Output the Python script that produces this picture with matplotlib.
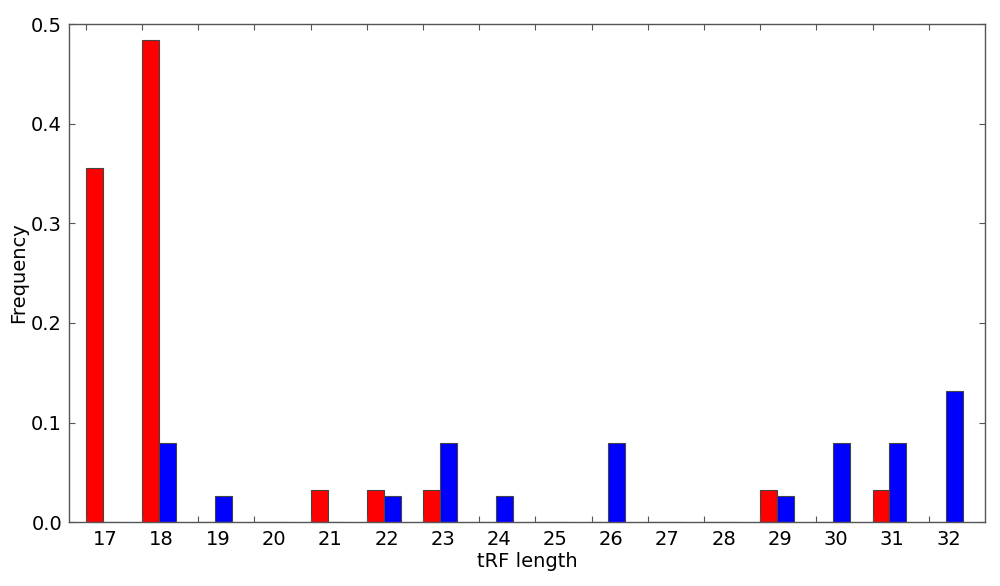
import matplotlib
matplotlib.use("Agg")
import matplotlib.pyplot as plt
import numpy as np

lengths = [17, 18, 19, 20, 21, 22, 23, 24, 25, 26, 27, 28, 29, 30, 31, 32]
red_values = [0.355, 0.484, 0.0, 0.0, 0.032, 0.032, 0.032, 0.0, 0.0, 0.0, 0.0, 0.0, 0.032, 0.0, 0.032, 0.0]
blue_values = [0.0, 0.079, 0.026, 0.0, 0.0, 0.026, 0.079, 0.026, 0.0, 0.079, 0.0, 0.0, 0.026, 0.079, 0.079, 0.132]
tick_labels = [str(v) for v in lengths]

width = 0.3
x = np.array(lengths, dtype=float)

fig = plt.figure(figsize=(10, 5.86), dpi=100)
ax = fig.add_axes([0.069, 0.109, 0.916, 0.85])

spine_col = "#555555"
ax.bar(x, red_values, width, align="edge", color="#ff0000", edgecolor="#444444", linewidth=0.8)
ax.bar(x + width, blue_values, width, align="edge", color="#0000ff", edgecolor="#444444", linewidth=0.8)

ax.set_xlim(16.7, 33.0)
ax.set_ylim(0, 0.5)

# major ticks (marks only) at bar starts, labels at group centers via minor ticks
ax.set_xticks(x)
ax.set_xticklabels([""] * len(x))
ax.set_xticks(x + 0.35, minor=True)
ax.set_xticklabels(tick_labels, minor=True)
ax.tick_params(axis="x", which="minor", length=0, labelsize=14, pad=6)
ax.tick_params(axis="x", which="major", direction="in", length=4, top=True, color=spine_col)
ax.set_yticks([0.0, 0.1, 0.2, 0.3, 0.4, 0.5])
ax.set_yticklabels(["0.0", "0.1", "0.2", "0.3", "0.4", "0.5"])
ax.tick_params(axis="y", direction="in", length=4, right=True, labelsize=14, color=spine_col, pad=5)

for s in ax.spines.values():
    s.set_color(spine_col)
    s.set_linewidth(1.0)

ax.set_xlabel("tRF length", fontsize=14, labelpad=2)
ax.set_ylabel("Frequency", fontsize=14, labelpad=2)

fig.savefig("out.png", dpi=100)
